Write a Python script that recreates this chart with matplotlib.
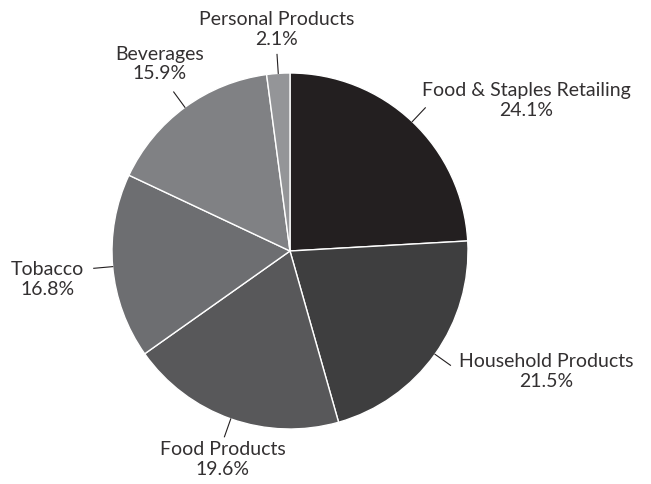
import numpy as np
import matplotlib
matplotlib.use("Agg")
import matplotlib.pyplot as plt

categories = ["Food & Staples Retailing", "Household Products", "Food Products",
              "Tobacco", "Beverages", "Personal Products"]
shares = [24.1, 21.5, 19.6, 16.8, 15.9, 2.1]
colors = ["#231f20", "#3e3e3f", "#58585a", "#6d6e71", "#808184", "#949598"]
# label offsets from leader-line end (pixels)
label_offsets = [(101, 7), (96, -6), (-2, -23), (-46, -11), (-14, 28), (0, 25)]

W, H = 651, 484
fig = plt.figure(figsize=(W / 100, H / 100), dpi=100)
ax = fig.add_axes([0, 0, 1, 1])

cx, cy, R = 290, H - 251, 178
wedges, _ = ax.pie(shares, colors=colors, startangle=90, counterclock=False,
                   center=(cx, cy), radius=R, frame=True,
                   wedgeprops=dict(edgecolor="white", linewidth=1.0))
ax.set_xlim(0, W)
ax.set_ylim(0, H)
ax.set_aspect("equal")
ax.axis("off")

for w, name, val, off in zip(wedges, categories, shares, label_offsets):
    ang = np.deg2rad((w.theta1 + w.theta2) / 2)
    x0, y0 = cx + R * np.cos(ang), cy + R * np.sin(ang)
    x1, y1 = cx + (R + 19) * np.cos(ang), cy + (R + 19) * np.sin(ang)
    ax.plot([x0, x1], [y0, y1], color="#231f20", lw=0.8)
    ax.text(x1 + off[0], y1 + off[1], f"{name}\n{val}%", ha="center", va="center",
            multialignment="center", fontsize=14, color="#333031",
            family="Lato", fontweight="normal", linespacing=1.2)

fig.savefig("out.png", dpi=100)
